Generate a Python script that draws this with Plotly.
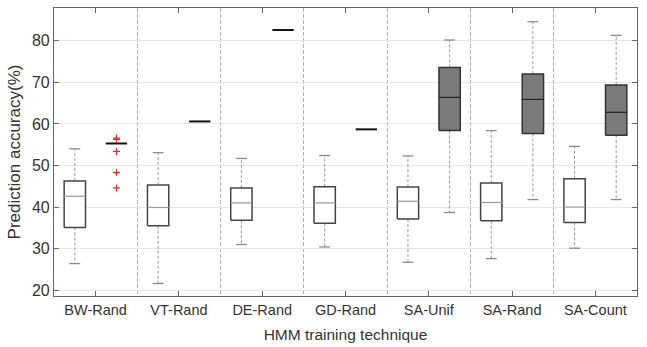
import plotly.graph_objects as go

groups = ["BW-Rand", "VT-Rand", "DE-Rand", "GD-Rand", "SA-Unif", "SA-Rand", "SA-Count"]

# left (white) boxes
white_lower = [26.4, 21.6, 31.0, 30.4, 26.7, 27.6, 30.1]
white_q1 = [35.1, 35.5, 36.8, 36.1, 37.1, 36.7, 36.3]
white_med = [42.6, 39.9, 41.0, 41.0, 41.4, 41.1, 40.0]
white_q3 = [46.3, 45.3, 44.6, 44.9, 44.8, 45.8, 46.8]
white_upper = [54.0, 53.1, 51.7, 52.4, 52.3, 58.4, 54.6]

# right (gray) boxes
gray_lower = [55.3, 60.6, 82.6, 58.7, 38.7, 41.8, 41.8]
gray_q1 = [55.3, 60.6, 82.6, 58.7, 58.4, 57.7, 57.3]
gray_med = [55.3, 60.6, 82.6, 58.7, 66.4, 65.9, 62.8]
gray_q3 = [55.3, 60.6, 82.6, 58.7, 73.6, 72.0, 69.4]
gray_upper = [55.3, 60.6, 82.6, 58.7, 80.2, 84.6, 81.3]

# outliers of gray box in BW-Rand
outlier_group = 0
outlier_values = [56.6, 56.3, 53.4, 48.3, 44.6]

OFFSET = 0.25
HW = 0.128   # box half-width
CW = 0.065   # cap half-width

fig = go.Figure()


def add_series(offset, lo, q1, med, q3, hi, fill, edge, medcol):
    wx, wy, cx, cy, bx, by, mx, my, dx, dy = [], [], [], [], [], [], [], [], [], []
    for i in range(len(groups)):
        xc = i + 1 + offset
        if q1[i] == q3[i] and lo[i] == hi[i]:
            dx += [xc - HW, xc + HW, None]
            dy += [med[i], med[i], None]
            continue
        wx += [xc, xc, None, xc, xc, None]
        wy += [q3[i], hi[i], None, q1[i], lo[i], None]
        cx += [xc - CW, xc + CW, None, xc - CW, xc + CW, None]
        cy += [hi[i], hi[i], None, lo[i], lo[i], None]
        bx += [xc - HW, xc + HW, xc + HW, xc - HW, xc - HW, None]
        by += [q1[i], q1[i], q3[i], q3[i], q1[i], None]
        mx += [xc - HW, xc + HW, None]
        my += [med[i], med[i], None]
    fig.add_trace(go.Scatter(x=wx, y=wy, mode="lines",
                             line=dict(color="#9a9a9a", width=1, dash="3px,2px"),
                             hoverinfo="skip", showlegend=False))
    fig.add_trace(go.Scatter(x=cx, y=cy, mode="lines",
                             line=dict(color="#8a8a8a", width=1.3),
                             hoverinfo="skip", showlegend=False))
    fig.add_trace(go.Scatter(x=bx, y=by, mode="lines", fill="toself", fillcolor=fill,
                             line=dict(color=edge, width=1.5),
                             hoverinfo="skip", showlegend=False))
    fig.add_trace(go.Scatter(x=mx, y=my, mode="lines",
                             line=dict(color=medcol, width=1.2),
                             hoverinfo="skip", showlegend=False))
    if dx:
        fig.add_trace(go.Scatter(x=dx, y=dy, mode="lines",
                                 line=dict(color="#111111", width=2),
                                 hoverinfo="skip", showlegend=False))


add_series(-OFFSET, white_lower, white_q1, white_med, white_q3, white_upper,
           "#ffffff", "#444444", "#9a9a9a")
add_series(OFFSET, gray_lower, gray_q1, gray_med, gray_q3, gray_upper,
           "#7a7a7a", "#333333", "#222222")

fig.add_trace(go.Scatter(x=[outlier_group + 1 + OFFSET] * len(outlier_values), y=outlier_values,
                         mode="markers",
                         marker=dict(symbol="cross-thin", size=5, line=dict(color="#ff2020", width=1.2)),
                         hoverinfo="skip", showlegend=False))

font_family = "Liberation Sans, Arial, sans-serif"
fig.update_layout(
    width=647, height=347,
    margin=dict(l=54, r=10, t=7, b=49),
    plot_bgcolor="white", paper_bgcolor="white",
    font=dict(family=font_family, color="#333333"),
    xaxis=dict(
        range=[0.5, 7.5],
        tickvals=list(range(1, len(groups) + 1)),
        ticktext=groups,
        ticks="inside", ticklen=5, tickcolor="#666666",
        showline=True, linecolor="#666666", linewidth=1.2, mirror="ticks",
        showgrid=False, zeroline=False,
        tickfont=dict(size=14.5, color="#333333"),
        title=dict(text="HMM training technique", font=dict(size=15.5, color="#333333"), standoff=12),
        minor=dict(tickvals=[i + 0.5 for i in range(1, len(groups))], showgrid=True,
                   gridcolor="#b0b0b0", griddash="4px,2px", gridwidth=1, ticks=""),
    ),
    yaxis=dict(
        range=[18.6, 87.9],
        tickvals=[20, 30, 40, 50, 60, 70, 80],
        ticks="inside", ticklen=5, tickcolor="#666666",
        showline=True, linecolor="#666666", linewidth=1.2, mirror="ticks",
        showgrid=True, gridcolor="#e6e6e6", gridwidth=1.3, zeroline=False,
        tickfont=dict(size=16, color="#333333"),
        title=dict(text="Prediction accuracy(%)", font=dict(size=17, color="#333333"), standoff=6),
    ),
)

fig.write_html("out.html", config={"displayModeBar": False})
